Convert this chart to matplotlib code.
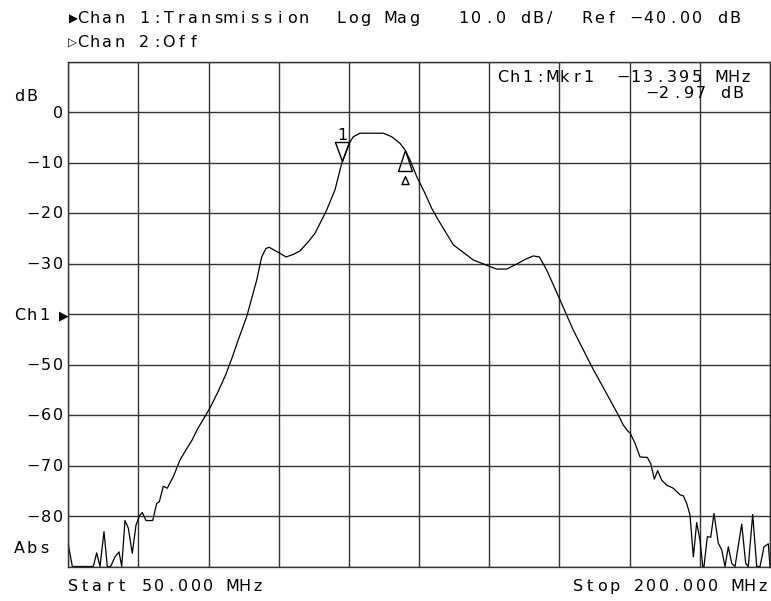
import numpy as np
import matplotlib
matplotlib.use('Agg')
import matplotlib.pyplot as plt
from matplotlib.path import Path
from matplotlib import transforms

# trace (MHz, dB)
freq_mhz = [50.00, 50.86, 55.34, 56.07, 56.78, 57.63, 58.34, 59.06, 59.98, 60.84,
            61.42, 62.12, 62.83, 63.68, 64.47, 65.18, 65.82, 66.61, 68.04, 68.90,
            69.45, 70.31, 71.16, 72.45, 73.02, 73.88, 75.16, 76.44, 77.73, 79.01,
            80.29, 82.00, 83.71, 84.99, 86.34, 88.14, 90.27, 91.34, 92.26, 92.97,
            94.89, 96.54, 98.10, 99.53, 101.31, 102.74, 104.17, 105.24, 107.01, 108.44,
            110.07, 110.92, 112.36, 117.34, 119.13, 120.91, 121.98, 123.05, 124.48, 126.25,
            127.69, 129.10, 132.30, 136.58, 140.15, 141.58, 143.72, 145.86, 147.63, 149.41,
            150.69, 152.27, 155.11, 157.95, 161.95, 165.80, 167.57, 168.64, 169.71, 170.07,
            171.14, 172.21, 173.77, 174.50, 175.27, 175.99, 176.85, 177.92, 179.33, 180.76,
            181.47, 182.19, 182.90, 183.61, 184.33, 185.04, 185.62, 185.89, 186.60, 187.33,
            188.03, 188.95, 189.68, 190.38, 191.09, 191.82, 192.52, 193.95, 194.81, 195.36,
            196.30, 197.16, 197.87, 198.72, 199.64, 200.00]
trace_db = [-85.7, -90.0, -90.0, -87.3, -90.0, -83.1, -90.0, -90.0, -88.1, -87.1,
            -90.0, -80.9, -82.4, -87.4, -81.8, -80.0, -79.3, -80.9, -80.9, -77.5,
            -77.2, -74.1, -74.5, -72.2, -70.9, -68.9, -66.9, -65.0, -62.6, -60.6,
            -58.6, -55.4, -51.9, -48.7, -45.1, -40.5, -33.3, -28.7, -27.0, -26.8,
            -27.8, -28.7, -28.2, -27.5, -25.7, -24.0, -21.4, -19.4, -15.4, -10.2,
            -6.2, -4.9, -4.2, -4.2, -4.9, -6.2, -7.5, -9.5, -12.8, -16.1,
            -19.1, -21.4, -26.3, -29.3, -30.6, -31.1, -31.1, -30.1, -29.2, -28.5,
            -28.7, -31.3, -37.2, -43.2, -50.5, -57.0, -60.0, -62.0, -63.3, -63.5,
            -65.6, -68.3, -68.4, -69.6, -72.7, -71.0, -72.9, -73.9, -74.5, -75.8,
            -76.0, -77.5, -79.8, -88.1, -81.3, -84.8, -90.0, -90.0, -84.1, -84.2,
            -79.5, -85.4, -86.7, -90.0, -86.1, -89.4, -90.0, -81.6, -89.4, -90.0,
            -79.7, -90.0, -90.0, -86.1, -85.5, -90.0]

start_mhz, stop_mhz = 50.0, 200.0
ref_db, scale_db = -40.0, 10.0
y_ticks = [0, -10, -20, -30, -40, -50, -60, -70, -80]
y_labels = ['0', '−10', '−20', '−30', 'Ch1', '−50', '−60', '−70', '−80']
mkr_ref_mhz = 122.0
mkr1_delta_mhz = -13.395
mkr1_delta_db = -2.97

header1 = 'Chan 1:Transmission  Log Mag   10.0 dB/  Ref −40.00 dB'
header2 = 'Chan 2:Off'

W, H = 771, 601
PITCH = 12.3
FONT = dict(family='DejaVu Sans', size=11.5, color='black')

fig = plt.figure(figsize=(W / 100, H / 100), dpi=100)
ax = fig.add_axes([68.3 / W, 1 - 566.5 / H, (770 - 68.3) / W, (566.5 - 61.5) / H])

top = ref_db + 5 * scale_db
ax.set_xlim(start_mhz, stop_mhz)
ax.set_ylim(top - 10 * scale_db, top)
ax.set_xticks(np.linspace(start_mhz, stop_mhz, 11))
ax.set_yticks(np.arange(top - 10 * scale_db, top + 1, scale_db))
ax.grid(True, color='#333333', lw=1)
ax.tick_params(length=0, labelbottom=False, labelleft=False)
for s in ax.spines.values():
    s.set_color('#333333')
    s.set_linewidth(1)

ax.plot(freq_mhz, trace_db, color='black', lw=0.9, clip_on=False)


def put(s, x0, ybase, trans=None, pitch=PITCH):
    # fixed-pitch text, one cell per char, like the instrument font
    for i, ch in enumerate(s):
        if ch == ' ':
            continue
        xc = x0 + (i + 0.5) * pitch
        if trans is None:
            fig.text(xc / W, 1 - ybase / H, ch, ha='center', va='baseline', **FONT)
        else:
            fig.text(xc / W, ybase, ch, ha='center', va='baseline', transform=trans, **FONT)


# header
fig.text(73 / W, 1 - 23 / H, '▶', ha='center', va='baseline', family='DejaVu Sans', size=8.5)
fig.text(73 / W, 1 - 47 / H, '▷', ha='center', va='baseline', family='DejaVu Sans', size=8.5)
put(header1, 76.4, 23)
put(header2, 76.4, 47)

# y labels, right aligned cells ending at x=64
ylab_tr = transforms.offset_copy(
    transforms.blended_transform_factory(fig.transFigure, ax.transData),
    fig=fig, y=-5.5, units='dots')
for v, lab in zip(y_ticks, y_labels):
    if lab == 'Ch1':
        put(lab, 13.5, v, ylab_tr)
        fig.text(64 / W, v, '▶', ha='center', va='baseline', transform=ylab_tr,
                 family='DejaVu Sans', size=9)
    else:
        put(lab, 64 - len(lab) * PITCH, v, ylab_tr)
put('dB', 13.5, top - 6.7, ylab_tr)
put('Abs', 13.5, top - 96.3, ylab_tr)

# bottom
put('Start %.3f MHz' % start_mhz, 66.5, 591)
put('Stop %.3f MHz' % stop_mhz, 571.5, 591)

# marker readout
put('Ch1:Mkr1', 496.5, 82)
l1 = '−%.3f MHz' % abs(mkr1_delta_mhz)
l2 = '−%.2f dB' % abs(mkr1_delta_db)
put(l1, 752 - len(l1) * PITCH, 82)
put(l2, 744 - len(l2) * PITCH, 98)

# markers on the trace
mkr1_mhz = mkr_ref_mhz + mkr1_delta_mhz
mkr1_db = np.interp(mkr1_mhz, freq_mhz, trace_db)
ref_db_val = np.interp(mkr_ref_mhz, freq_mhz, trace_db)

tri_down = Path([(0, 0), (-0.37, 1), (0.37, 1), (0, 0)],
                [Path.MOVETO, Path.LINETO, Path.LINETO, Path.CLOSEPOLY])
ax.plot([mkr1_mhz], [mkr1_db], marker=tri_down, ms=19 * 0.72 * 2,
        mfc='none', mec='black', mew=1, ls='none')
ax.annotate('1', xy=(mkr1_mhz, mkr1_db), xytext=(0, 26 * 0.72), textcoords='offset points',
            ha='center', va='center', **FONT)

delta = Path([(0, 0), (-0.33, -1), (0.33, -1), (0, 0),
              (0, -1.24), (-0.167, -1.62), (0.167, -1.62), (0, -1.24)],
             [Path.MOVETO, Path.LINETO, Path.LINETO, Path.CLOSEPOLY,
              Path.MOVETO, Path.LINETO, Path.LINETO, Path.CLOSEPOLY])
ax.plot([mkr_ref_mhz], [ref_db_val], marker=delta, ms=21 * 0.72 * 2 * 1.62,
        mfc='none', mec='black', mew=1, ls='none')

fig.savefig('out.png', dpi=100)
